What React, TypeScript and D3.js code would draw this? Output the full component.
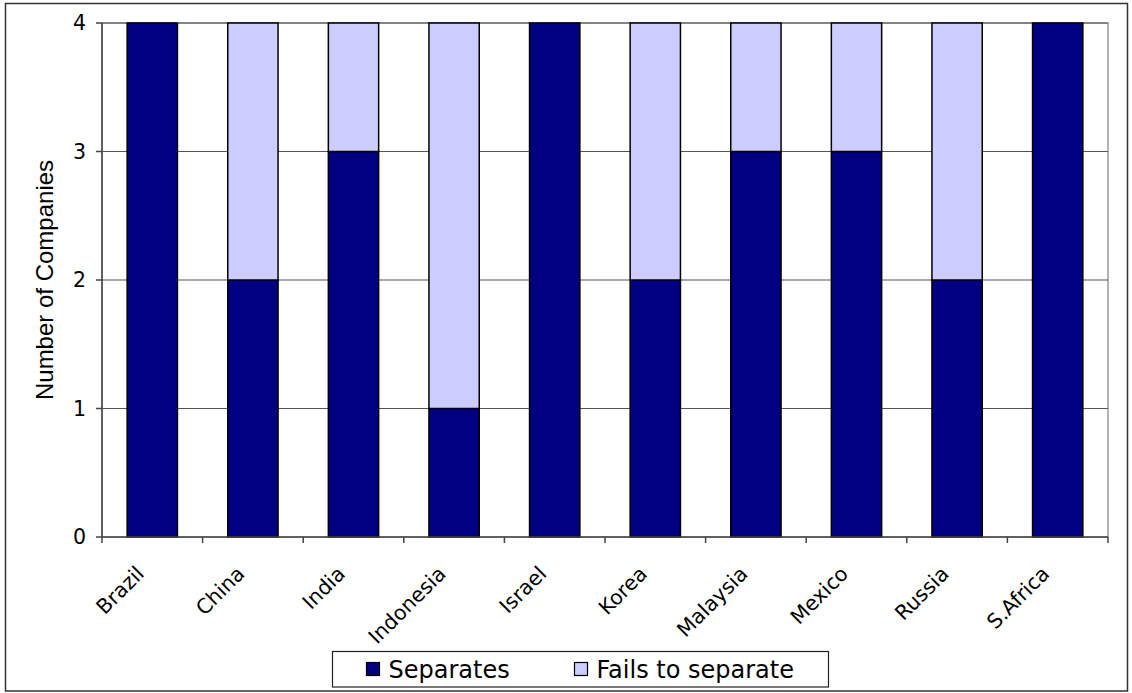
import React from "react";
import * as d3 from "d3";

const categories = ["Brazil", "China", "India", "Indonesia", "Israel", "Korea", "Malaysia", "Mexico", "Russia", "S.Africa"];
const separates = [4, 2, 3, 1, 4, 2, 3, 3, 2, 4];
const failsToSeparate = [0, 2, 1, 3, 0, 2, 1, 1, 2, 0];
const yTicks = [0, 1, 2, 3, 4];
const seriesNames = ["Separates", "Fails to separate"];
const seriesColors = ["#000080", "#CCCCFF"];

const W = 1132;
const H = 693;
const plot = { left: 102, right: 1108, top: 23, bottom: 537 };
const tickFont = "'DejaVu Sans', Verdana, sans-serif";

export default function App() {
  const x = d3
    .scaleBand<string>()
    .domain(categories)
    .range([plot.left, plot.right])
    .paddingInner(0.5)
    .paddingOuter(0.25);
  const y = d3.scaleLinear().domain([0, 4]).range([plot.bottom, plot.top]);
  const step = x.step();

  const stackData = categories.map((c, i) => ({ cat: c, s: separates[i], f: failsToSeparate[i] }));
  const stack = d3.stack<any>().keys(["s", "f"])(stackData);

  return (
    <svg width={W} height={H} style={{ position: "absolute", left: 0, top: 0, background: "#fff" }}>
      <rect x={5.5} y={3.5} width={1122} height={687.5} fill="#fff" stroke="#333" strokeWidth={1.5} />
      {/* plot border */}
      <rect x={plot.left} y={plot.top} width={plot.right - plot.left} height={plot.bottom - plot.top} fill="none" stroke="#999" strokeWidth={1.5} />
      {/* gridlines */}
      {yTicks.filter((t) => t > 0).map((t) => (
        <line key={"g" + t} x1={plot.left} x2={plot.right} y1={y(t)} y2={y(t)} stroke="#555" strokeWidth={1.2} />
      ))}
      {/* bars */}
      {stack.map((layer, li) =>
        layer.map((d, i) =>
          d[1] - d[0] > 0 ? (
            <rect
              key={li + "-" + i}
              x={x(categories[i])!}
              y={y(d[1])}
              width={x.bandwidth()}
              height={y(d[0]) - y(d[1])}
              fill={seriesColors[li]}
              stroke="#000"
              strokeWidth={1.5}
            />
          ) : null
        )
      )}
      {/* y axis */}
      <line x1={plot.left} x2={plot.left} y1={plot.top} y2={plot.bottom} stroke="#444" strokeWidth={1.5} />
      {yTicks.map((t) => (
        <g key={"yt" + t}>
          <line x1={plot.left - 6} x2={plot.left} y1={y(t)} y2={y(t)} stroke="#444" strokeWidth={1.5} />
          <text x={86} y={y(t)} dy="0.36em" textAnchor="end" fontFamily={tickFont} fontSize={20.5} fill="#000">
            {t}
          </text>
        </g>
      ))}
      {/* x axis */}
      <line x1={plot.left} x2={plot.right} y1={plot.bottom} y2={plot.bottom} stroke="#444" strokeWidth={1.5} />
      {d3.range(categories.length + 1).map((i) => (
        <line key={"xt" + i} x1={plot.left + i * step} x2={plot.left + i * step} y1={plot.bottom} y2={plot.bottom + 6} stroke="#444" strokeWidth={1.5} />
      ))}
      {categories.map((c) => {
        const cx = x(c)! + x.bandwidth() / 2;
        return (
          <text
            key={"xl" + c}
            transform={`translate(${cx - 7},${plot.bottom + 38}) rotate(-45)`}
            textAnchor="end"
            fontFamily={tickFont}
            fontSize={20.5}
            fill="#000"
          >
            {c}
          </text>
        );
      })}
      {/* y title */}
      <text
        transform={`translate(53,${(plot.top + plot.bottom) / 2}) rotate(-90)`}
        textAnchor="middle"
        fontFamily="'Liberation Sans', Arial, sans-serif"
        fontSize={24}
        fill="#000"
      >
        Number of Companies
      </text>
      {/* legend */}
      <rect x={332.5} y={651.5} width={496} height={35.5} fill="#fff" stroke="#222" strokeWidth={1.2} />
      {seriesNames.map((n, i) => {
        const sx = i === 0 ? 366.5 : 574.5;
        return (
          <g key={"lg" + n}>
            <rect x={sx} y={662.5} width={13} height={13} fill={seriesColors[i]} stroke="#000" strokeWidth={1.2} />
            <text x={sx + 22} y={678} fontFamily={tickFont} fontSize={24} fill="#000">
              {n}
            </text>
          </g>
        );
      })}
    </svg>
  );
}
